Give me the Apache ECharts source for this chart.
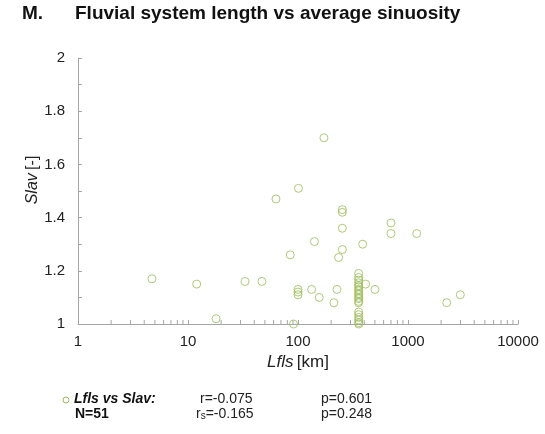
<!DOCTYPE html>
<html>
<head>
<meta charset="utf-8">
<style>
  html, body { margin: 0; padding: 0; background: #ffffff; }
  #chart { width: 545px; height: 434px; }
</style>
<script src="https://cdn.jsdelivr.net/npm/echarts@6/dist/echarts.min.js"></script>
</head>
<body>
<div id="chart"></div>
<script>
// Fluvial system length (km) and average sinuosity (-), one entry per system
const lengthKm = [
  4.7, 12, 18, 33, 47, 63, 101, 172,
  253, 253, 253, 700, 700, 1200, 141, 253, 387, 234, 85,
  100, 100, 100, 133, 156, 226, 212, 412, 501, 2250, 2990, 91,
  356, 356, 356, 356, 356, 356, 356, 356, 356, 356, 356, 356, 356, 356,
  356, 356, 356, 356, 356, 356
];
const sinuosity = [
  1.17, 1.15, 1.02, 1.16, 1.16, 1.47, 1.51, 1.70,
  1.43, 1.42, 1.36, 1.38, 1.34, 1.34, 1.31, 1.28, 1.30, 1.25, 1.26,
  1.13, 1.12, 1.11, 1.13, 1.10, 1.13, 1.08, 1.15, 1.13, 1.08, 1.11, 1.00,
  1.19, 1.175, 1.165, 1.155, 1.145, 1.14, 1.13, 1.125, 1.115, 1.11, 1.10, 1.095, 1.085, 1.08,
  1.045, 1.035, 1.025, 1.015, 1.005, 1.00
];

const xMin = 1, xMax = 10000;
const yMin = 1, yMax = 2, yStep = 0.2;

// minor log ticks (2..9 within each decade)
const xMinorTicks = [];
for (let d = xMin; d < xMax; d *= 10) {
  for (let k = 2; k <= 9; k++) xMinorTicks.push(d * k);
}

const points = lengthKm.map((v, i) => [v, sinuosity[i]]);
const markerColor = '#9bbb59';
const axisColor = '#a6a6a6';
const font = 'Liberation Sans, Arial, sans-serif';

const chart = echarts.init(document.getElementById('chart'), null, { renderer: 'canvas' });

chart.setOption({
  animation: false,
  backgroundColor: '#ffffff',
  textStyle: { fontFamily: font },
  grid: { left: 78, right: 27, top: 58, bottom: 110, containLabel: false },
  xAxis: {
    type: 'log',
    logBase: 10,
    min: xMin,
    max: xMax,
    name: '{i|Lfls} {n|[km]}',
    nameLocation: 'middle',
    nameGap: 30,
    nameTextStyle: {
      rich: {
        i: { fontStyle: 'italic', fontSize: 17, color: '#222', fontFamily: font },
        n: { fontSize: 17, color: '#222', fontFamily: font }
      }
    },
    axisLine: { show: true, lineStyle: { color: axisColor, width: 1 } },
    axisTick: { show: true, inside: true, length: 4, lineStyle: { color: axisColor } },
    axisLabel: {
      color: '#222', fontSize: 15, margin: 10, fontFamily: font,
      formatter: v => String(Math.round(v))
    },
    splitLine: { show: false }
  },
  yAxis: {
    type: 'value',
    min: yMin,
    max: yMax,
    interval: yStep,
    name: '{i|Slav} {n|[-]}',
    nameLocation: 'middle',
    nameGap: 37,
    nameMoveOverlap: false,
    nameTextStyle: {
      padding: [0, 0, 0, 22],
      rich: {
        i: { fontStyle: 'italic', fontSize: 16, color: '#222', fontFamily: font },
        n: { fontSize: 16, color: '#222', fontFamily: font }
      }
    },
    axisLine: { show: true, lineStyle: { color: axisColor, width: 1 } },
    axisTick: { show: true, inside: true, length: 4, lineStyle: { color: axisColor } },
    minorTick: { show: true, splitNumber: 2, length: 4, lineStyle: { color: axisColor } },
    axisLabel: {
      color: '#222', fontSize: 15, margin: 13, fontFamily: font,
      formatter: v => String(Math.round(v * 10) / 10)
    },
    splitLine: { show: false }
  },
  series: [
    {
      type: 'custom',
      silent: true,
      clip: false,
      data: xMinorTicks.map(v => [v, yMin]),
      renderItem: (params, api) => {
        const p = api.coord([api.value(0), api.value(1)]);
        return {
          type: 'line',
          shape: { x1: p[0], y1: p[1], x2: p[0], y2: p[1] - 4 },
          style: { stroke: axisColor, lineWidth: 1 }
        };
      },
      z: 1
    },
    {
      type: 'scatter',
      name: 'Lfls vs Slav',
      data: points,
      symbol: 'circle',
      symbolSize: 8,
      clip: false,
      itemStyle: { color: 'rgba(255,255,255,0)', borderColor: markerColor, borderWidth: 1 },
      z: 3
    }
  ],
  graphic: [
    { type: 'text', left: 22, top: 4,
      style: { text: 'M.', font: 'bold 19px ' + font, fill: '#111' } },
    { type: 'text', left: 75, top: 4,
      style: { text: 'Fluvial system length vs average sinuosity', font: 'bold 19px ' + font, fill: '#111' } },
    { type: 'circle', shape: { cx: 66, cy: 400, r: 3 },
      style: { fill: 'none', stroke: markerColor, lineWidth: 1 } },
    { type: 'text', left: 74, top: 392,
      style: { text: 'Lfls vs Slav:', font: 'italic bold 14px ' + font, fill: '#111' } },
    { type: 'text', left: 75, top: 407,
      style: { text: 'N=51', font: 'bold 14px ' + font, fill: '#111' } },
    { type: 'text', left: 200, top: 392,
      style: { text: 'r=-0.075', font: '14px ' + font, fill: '#222' } },
    { type: 'text', left: 196, top: 407,
      style: {
        text: '{a|r}{s|s}{a|=-0.165}',
        rich: {
          a: { font: '14px ' + font, fill: '#222' },
          s: { font: '10px ' + font, fill: '#222', verticalAlign: 'bottom', padding: [5, 0, 0, 0] }
        }
      } },
    { type: 'text', left: 321, top: 392,
      style: { text: 'p=0.601', font: '14px ' + font, fill: '#222' } },
    { type: 'text', left: 321, top: 407,
      style: { text: 'p=0.248', font: '14px ' + font, fill: '#222' } }
  ]
});
</script>
</body>
</html>
